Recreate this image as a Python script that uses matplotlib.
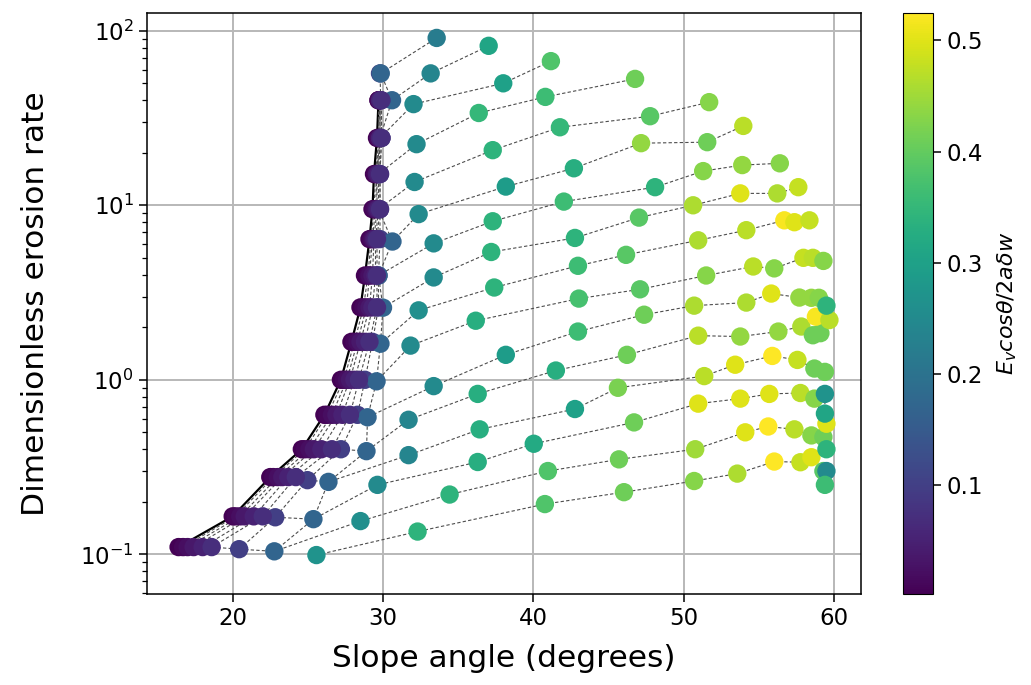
import matplotlib
matplotlib.use("Agg")
import matplotlib.pyplot as plt

# ------------------------------------------------------------------
# Datos
# ------------------------------------------------------------------
# Niveles de tasa de erosion del grupo morado (pendiente critica)
levels_y = [0.11, 0.165, 0.277, 0.40, 0.63, 1.0, 1.65, 2.6, 3.96, 6.4,
            9.5, 15.1, 24.3, 40.0, 57.0]

# Angulos del grupo morado: 6 puntos por nivel (el nivel mas alto no tiene)
cluster_x = [
    [16.4, 16.7, 17.0, 17.4, 18.0, 18.6],
    [20.0, 20.2, 20.5, 20.8, 21.4, 22.0],
    [22.5, 22.7, 23.0, 23.3, 23.7, 24.2],
    [24.6, 24.8, 25.1, 25.4, 25.9, 26.6],
    [26.1, 26.3, 26.6, 26.9, 27.3, 27.8],
    [27.2, 27.4, 27.6, 27.8, 28.1, 28.4],
    [27.9, 28.1, 28.3, 28.5, 28.8, 29.1],
    [28.5, 28.7, 28.9, 29.1, 29.3, 29.6],
    [28.8, 29.0, 29.1, 29.3, 29.5, 29.6],
    [29.1, 29.2, 29.3, 29.4, 29.5, 29.6],
    [29.3, 29.4, 29.5, 29.6, 29.7, 29.8],
    [29.4, 29.5, 29.6, 29.6, 29.7, 29.8],
    [29.6, 29.7, 29.7, 29.8, 29.8, 29.9],
    [29.7, 29.7, 29.8, 29.8, 29.8, 29.9],
]
cluster_c = [0.004, 0.012, 0.022, 0.035, 0.05, 0.07]

# Columna morado-azul
p6_x = [20.43, 22.83, 24.97, 27.2, 28.3, 28.8, 29.3, 29.7, 29.7, 29.8,
        29.8, 29.8, 29.9, 29.85, 29.8]
p6_y = [0.107, 0.163, 0.266, 0.40, 0.63, 1.0, 1.65, 2.6, 3.96, 6.4,
        9.5, 15.1, 24.3, 40.0, 57.0]
p6_c = 0.10

# Columna azul
b7_x = [22.77, 25.37, 26.37, 28.9, 28.97, 29.57, 29.83, 30.0, 29.7, 30.63,
        29.7, 29.7, 29.8, 30.6, 29.85]
b7_y = [0.104, 0.159, 0.26, 0.39, 0.61, 0.98, 1.61, 2.59, 3.96, 6.2,
        9.5, 15.1, 24.3, 40.0, 57.0]
b7_c = 0.17

# Curvas hacia la derecha (desde la columna verde azulada)
rows_x = [
    [25.57, 32.3, 40.77, 46.03, 50.7, 53.57, 56.03, 57.77, 58.5, 59.3, 59.5, 59.4],
    [28.5, 34.43, 40.97, 45.7, 50.77, 54.1, 55.63, 57.37, 58.5, 59.3, 59.5],
    [29.63, 36.3, 40.03, 46.7, 50.97, 53.77, 55.7, 57.77, 58.7, 59.5, 59.4, 59.4],
    [31.7, 36.43, 42.77, 45.63, 51.37, 53.43, 55.9, 57.57, 58.7, 59.4],
    [31.7, 36.3, 41.5, 46.23, 50.97, 53.77, 56.3, 57.83, 58.6, 59.1, 58.8, 59.7],
    [33.37, 38.17, 42.97, 47.37, 50.7, 54.17, 55.83, 57.7, 58.5, 59.0, 59.5],
    [31.83, 36.17, 43.03, 47.1, 51.5, 54.63, 56.03, 57.97, 58.6, 59.3],
    [32.37, 37.4, 42.97, 46.17, 50.97, 54.17, 56.7, 57.37, 58.37],
    [33.37, 37.2, 42.77, 47.03, 50.63, 53.77, 56.23, 57.63],
    [33.37, 37.3, 42.03, 48.1, 51.3, 53.9, 56.4],
    [32.37, 38.17, 42.7, 47.17, 51.57, 53.97],
    [32.1, 37.3, 41.77, 47.77, 51.7],
    [32.23, 36.37, 40.8, 46.77],
    [32.03, 38.0, 41.17],
    [33.17, 37.03],
    [33.57],
]
rows_y = [
    [0.099, 0.135, 0.194, 0.227, 0.263, 0.29, 0.34, 0.337, 0.36, 0.30, 0.30, 0.25],
    [0.155, 0.22, 0.30, 0.35, 0.40, 0.50, 0.54, 0.52, 0.48, 0.47, 0.40],
    [0.25, 0.338, 0.43, 0.57, 0.73, 0.78, 0.83, 0.84, 0.78, 0.56, 0.64, 0.83],
    [0.37, 0.52, 0.68, 0.90, 1.05, 1.22, 1.37, 1.30, 1.16, 1.11],
    [0.59, 0.83, 1.13, 1.39, 1.79, 1.77, 1.89, 2.02, 1.80, 1.85, 2.3, 2.2],
    [0.92, 1.39, 1.89, 2.36, 2.66, 2.77, 3.12, 2.96, 2.95, 2.95, 2.66],
    [1.57, 2.18, 2.92, 3.3, 3.96, 4.46, 4.35, 5.0, 5.0, 4.8],
    [2.5, 3.38, 4.5, 5.2, 6.3, 7.2, 8.2, 8.0, 8.2],
    [3.86, 5.4, 6.5, 8.5, 10.0, 11.7, 11.7, 12.7],
    [6.05, 8.1, 10.5, 12.7, 15.7, 17.0, 17.4],
    [8.9, 12.8, 16.3, 22.7, 23.0, 28.5],
    [13.6, 20.7, 28.0, 32.4, 39.0],
    [22.4, 33.8, 41.8, 53.0],
    [38.0, 50.0, 67.0],
    [57.0, 82.0],
    [91.0],
]
rows_c = [
    [0.27, 0.34, 0.38, 0.41, 0.43, 0.46, 0.53, 0.48, 0.50, 0.39, 0.25, 0.36],
    [0.26, 0.34, 0.38, 0.41, 0.45, 0.50, 0.53, 0.47, 0.43, 0.41, 0.34],
    [0.25, 0.33, 0.32, 0.41, 0.50, 0.50, 0.50, 0.47, 0.43, 0.50, 0.31, 0.27],
    [0.24, 0.33, 0.30, 0.42, 0.47, 0.50, 0.53, 0.48, 0.41, 0.41],
    [0.24, 0.33, 0.33, 0.41, 0.47, 0.44, 0.44, 0.46, 0.41, 0.41, 0.52, 0.47],
    [0.25, 0.29, 0.36, 0.41, 0.46, 0.46, 0.50, 0.44, 0.44, 0.43, 0.34],
    [0.25, 0.33, 0.37, 0.39, 0.43, 0.47, 0.43, 0.48, 0.47, 0.43],
    [0.26, 0.34, 0.36, 0.39, 0.46, 0.47, 0.52, 0.50, 0.48],
    [0.25, 0.34, 0.34, 0.39, 0.46, 0.50, 0.46, 0.48],
    [0.25, 0.34, 0.36, 0.34, 0.43, 0.44, 0.43],
    [0.25, 0.29, 0.33, 0.44, 0.41, 0.47],
    [0.25, 0.34, 0.35, 0.39, 0.43],
    [0.25, 0.35, 0.36, 0.41],
    [0.25, 0.30, 0.38],
    [0.24, 0.31],
    [0.22],
]

# ------------------------------------------------------------------
# Figura
# ------------------------------------------------------------------
fig = plt.figure(figsize=(10.31, 6.85), dpi=100)
ax = fig.add_axes([0.1426, 0.1328, 0.6925, 0.8487])
cax = fig.add_axes([0.876, 0.1328, 0.029, 0.8487])

linea = dict(color="0.3", lw=0.8, ls=(0, (3, 2)), zorder=1)

# Columnas del grupo morado (curva negra = la primera)
n_cl = len(cluster_x)
for k in range(len(cluster_c)):
    xs = [cluster_x[i][k] for i in range(n_cl)]
    if k == 0:
        ax.plot(xs, levels_y[:n_cl], color="k", lw=1.6, zorder=1)
    else:
        ax.plot(xs, levels_y[:n_cl], **linea)
ax.plot(p6_x, p6_y, **linea)
ax.plot(b7_x, b7_y, **linea)

# Lineas por fila; los puntos se juntan en tres capas
izq_x, izq_y, izq_c = [], [], []
mor_x, mor_y, mor_c = [], [], []
der_x, der_y, der_c = [], [], []
for r in range(len(rows_x)):
    fx, fy = [], []
    if r >= 1:
        i = r - 1
        if i < n_cl:
            fx += cluster_x[i]
            fy += [levels_y[i]] * len(cluster_c)
            mor_x += cluster_x[i]
            mor_y += [levels_y[i]] * len(cluster_c)
            mor_c += cluster_c
        fx += [p6_x[i], b7_x[i]]
        fy += [p6_y[i], b7_y[i]]
        izq_x += [p6_x[i], b7_x[i]]
        izq_y += [p6_y[i], b7_y[i]]
        izq_c += [p6_c, b7_c]
    fx += rows_x[r]
    fy += rows_y[r]
    ax.plot(fx, fy, **linea)
    der_x += rows_x[r]
    der_y += rows_y[r]
    der_c += rows_c[r]

norma = dict(cmap="viridis", vmin=0.002, vmax=0.525, s=175,
             edgecolors="none", zorder=2)
ax.scatter(izq_x, izq_y, c=izq_c, **norma)
ax.scatter(mor_x, mor_y, c=mor_c, **norma)
sc = ax.scatter(der_x, der_y, c=der_c, **norma)

ax.set_yscale("log")
ax.set_xlim(14.3, 61.8)
ax.set_ylim(0.0592, 127)
ax.set_xticks([20, 30, 40, 50, 60])
ax.grid(True, which="major", color="#b8b8b8", lw=1.4)
ax.set_axisbelow(True)
ax.tick_params(which="major", labelsize=16.5, length=6, width=1.1)
ax.tick_params(which="minor", length=3.5, width=0.9)
for s in ax.spines.values():
    s.set_linewidth(1.1)
ax.set_xlabel("Slope angle (degrees)", fontsize=22.5, labelpad=10)
ax.set_ylabel("Dimensionless erosion rate", fontsize=22.5, labelpad=22)

cb = fig.colorbar(sc, cax=cax)
cb.set_ticks([0.1, 0.2, 0.3, 0.4, 0.5])
cb.ax.tick_params(labelsize=16.5, length=6, width=1.1)
cb.set_label(r"$E_v cos\theta/2a\delta w$", fontsize=16, labelpad=9)

fig.savefig("out.png", dpi=100)
